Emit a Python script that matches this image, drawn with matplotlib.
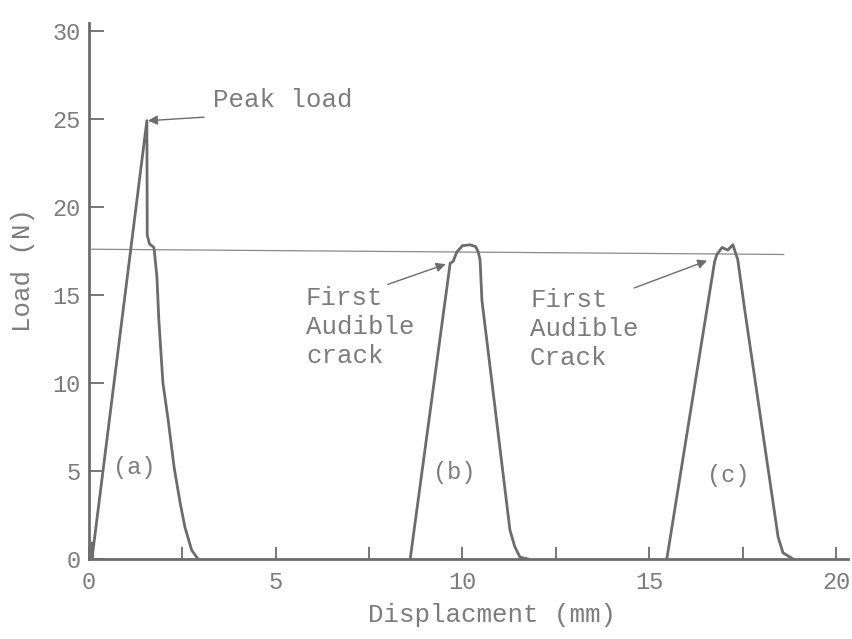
import matplotlib
matplotlib.use("Agg")
import matplotlib.pyplot as plt

# load-displacement traces
a_x = [0.08, 0.08, 1.55, 1.56, 1.62, 1.74, 1.82, 1.87, 1.98, 2.12, 2.28, 2.44, 2.57, 2.75, 2.92]
a_y = [0.9, 0.0, 24.9, 18.4, 17.9, 17.7, 16.0, 13.6, 10.0, 7.9, 5.2, 3.2, 1.8, 0.5, 0.0]

b_x = [8.6, 9.67, 9.75, 9.85, 10.0, 10.2, 10.35, 10.42, 10.47, 10.52, 11.27, 11.4, 11.54, 11.75]
b_y = [0.0, 16.8, 16.9, 17.45, 17.8, 17.85, 17.75, 17.45, 17.0, 14.7, 1.65, 0.7, 0.1, 0.0]

c_x = [15.47, 16.75, 16.81, 16.95, 17.1, 17.24, 17.37, 17.56, 18.45, 18.58, 18.85]
c_y = [0.0, 16.9, 17.3, 17.7, 17.55, 17.85, 17.0, 14.1, 1.25, 0.35, 0.0]

ref_x = [0.0, 18.6]
ref_y = [17.6, 17.3]

xticks = [0, 5, 10, 15, 20]
xminor = [2.5, 7.5, 12.5, 17.5]
yticks = [0, 5, 10, 15, 20, 25, 30]

plt.rcParams['font.family'] = ['Liberation Mono', 'DejaVu Sans Mono']
ink = '#6c6c6c'
txt = '#7c7c7c'

fig = plt.figure(figsize=(8.53, 6.39), dpi=100)
ax = fig.add_axes([0.1043, 0.1252, 0.8898, 0.8388])

ax.plot(ref_x, ref_y, color='#8a8a8a', lw=0.9)
for xs, ys in [(a_x, a_y), (b_x, b_y), (c_x, c_y)]:
    ax.plot(xs, ys, color=ink, lw=2.0, solid_joinstyle='round')

ax.set_xlim(0, 20.32)
ax.set_ylim(0, 30.45)

for s in ['top', 'right']:
    ax.spines[s].set_visible(False)
for s in ['left', 'bottom']:
    ax.spines[s].set_color(ink)
    ax.spines[s].set_linewidth(2.0)

ax.set_xticks(xticks)
ax.set_xticks(xminor, minor=True)
ax.set_yticks(yticks)
ax.tick_params(axis='x', which='both', direction='in', length=9, width=1.3,
               colors=ink, labelcolor=txt, labelsize=17, pad=9)
ax.tick_params(axis='y', direction='in', length=11, width=1.3,
               colors=ink, labelcolor=txt, labelsize=17, pad=6)

fs = 18.5
arrow = dict(arrowstyle='-|>', color=ink, lw=1.0, mutation_scale=14,
             shrinkA=0, shrinkB=0)

ax.text(3.32, 26.1, 'Peak load', color=txt, fontsize=fs, va='center', ha='left')
ax.annotate('', xy=(1.58, 24.9), xytext=(3.08, 25.1), arrowprops=arrow)

ax.text(5.81, 13.18, 'First\nAudible\ncrack', color=txt, fontsize=fs,
        va='center', ha='left', linespacing=1.25)
ax.annotate('', xy=(9.55, 16.75), xytext=(8.0, 15.6), arrowprops=arrow)

ax.text(11.81, 13.07, 'First\nAudible\nCrack', color=txt, fontsize=fs,
        va='center', ha='left', linespacing=1.25)
ax.annotate('', xy=(16.55, 16.95), xytext=(14.6, 15.4), arrowprops=arrow)

ax.text(0.64, 5.2, '(a)', color=txt, fontsize=17, va='center', ha='left')
ax.text(9.21, 4.94, '(b)', color=txt, fontsize=17, va='center', ha='left')
ax.text(16.55, 4.77, '(c)', color=txt, fontsize=17, va='center', ha='left')

fig.text(0.577, 0.038, 'Displacment (mm)', color=txt, fontsize=fs, ha='center', va='center')
fig.text(0.027, 0.577, 'Load (N)', color=txt, fontsize=fs, ha='center', va='center', rotation=90)

fig.savefig('out.png', dpi=100, facecolor='white')
